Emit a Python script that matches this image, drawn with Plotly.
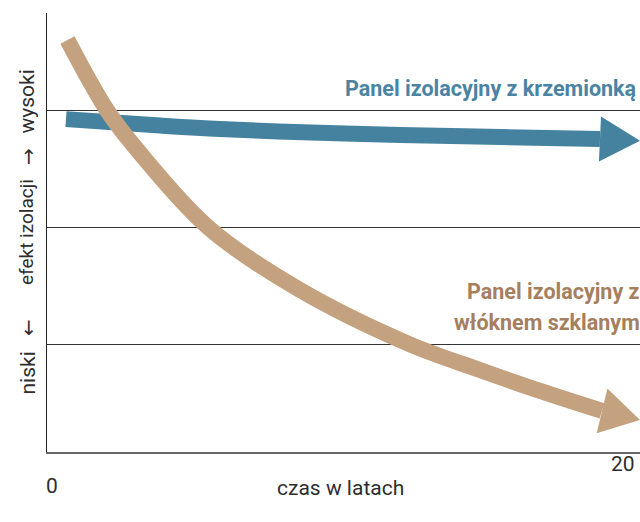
import math
import plotly.graph_objects as go

# ---- data ----
years_silica = [0.64, 3.81, 5.83, 8.9, 11.91, 15.3, 18.65, 20.0]
effect_silica = [2.93, 2.875, 2.845, 2.815, 2.794, 2.776, 2.760, 2.744]

years_glass = [0.69, 2.04, 3.05, 5.46, 8.53, 12.21, 14.60, 16.63, 18.72, 20.0]
effect_glass = [3.609, 3.0, 2.665, 1.996, 1.464, 1.0, 0.777, 0.597, 0.425, 0.347]

grid_levels = [1, 2, 3]
x_tick_labels = ["0", "20"]

label_silica = "Panel izolacyjny z krzemionką"
label_glass = ["Panel izolacyjny z", "włóknem szklanym"]
x_title = "czas w latach"
y_title_parts = ["wysoki", "→", "efekt izolacji", "←", "niski"]

# ---- layout constants ----
W, H = 640, 522
ML, MR, MT, MB = 47, 0, 13, 70
XR = [0, 20]
YR = [0.073, 3.841]
PW, PH = W - ML - MR, H - MT - MB
SX = PW / (XR[1] - XR[0])
SY = PH / (YR[1] - YR[0])

BLUE = "#44829f"
BROWN = "#c4a27f"
BLUE_TXT = "#4a84a2"
BROWN_TXT = "#a67f5e"
DARK = "#2e2e2e"
FONT = "Roboto"


def paper(xp, yp):
    # window pixel -> paper coords
    return (xp - ML) / PW, (H - MB - yp) / PH


def head(xs, ys, width):
    bx, by = xs[-2], ys[-2]
    tx, ty = xs[-1], ys[-1]
    dx, dy = (tx - bx) * SX, (ty - by) * SY
    L = math.hypot(dx, dy)
    nx, ny = -dy / L, dx / L
    h = width / 2
    c1 = (bx + nx * h / SX, by + ny * h / SY)
    c2 = (bx - nx * h / SX, by - ny * h / SY)
    return [c1[0], tx, c2[0], c1[0]], [c1[1], ty, c2[1], c1[1]]


fig = go.Figure()

# blue shaft + head
fig.add_trace(go.Scatter(x=years_silica[:-1], y=effect_silica[:-1], mode="lines",
                         line=dict(color=BLUE, width=16, shape="spline", smoothing=1),
                         hoverinfo="skip", showlegend=False))
hx, hy = head(years_silica, effect_silica, 45)
fig.add_trace(go.Scatter(x=hx, y=hy, mode="lines", fill="toself", fillcolor=BLUE,
                         line=dict(width=0, color=BLUE), hoverinfo="skip", showlegend=False))

# brown shaft + head
fig.add_trace(go.Scatter(x=years_glass[:-1], y=effect_glass[:-1], mode="lines",
                         line=dict(color=BROWN, width=16, shape="spline", smoothing=1),
                         hoverinfo="skip", showlegend=False))
hx, hy = head(years_glass, effect_glass, 46)
fig.add_trace(go.Scatter(x=hx, y=hy, mode="lines", fill="toself", fillcolor=BROWN,
                         line=dict(width=0, color=BROWN), hoverinfo="skip", showlegend=False))

ann = []


def add_text(text, xp, yp, size=21, color=DARK, bold=False, xanchor="center", angle=0,
             family=FONT):
    px_, py_ = paper(xp, yp)
    ann.append(dict(text=f"<b>{text}</b>" if bold else text, x=px_, y=py_,
                    xref="paper", yref="paper", showarrow=False,
                    xanchor=xanchor, yanchor="middle", textangle=angle,
                    font=dict(family=family, size=size, color=color)))


add_text(label_silica, 638, 88, size=21.5, color=BLUE_TXT, bold=True, xanchor="right")
add_text(label_glass[0], 642, 292, size=21.5, color=BROWN_TXT, bold=True, xanchor="right")
add_text(label_glass[1], 642, 322, size=21.5, color=BROWN_TXT, bold=True, xanchor="right")

add_text(x_tick_labels[0], 51.5, 486)
add_text(x_tick_labels[1], 637, 464, xanchor="right")
add_text(x_title, 340, 488)

y_pos = [101.5, 157, 232, 328, 373.5]
for t, yp in zip(y_title_parts, y_pos):
    if t in ("→", "←"):
        add_text(t, 28, yp, size=20, angle=-90, family="DejaVu Sans")
    elif t == "efekt izolacji":
        add_text(t, 27, yp, size=19, angle=-90)
    else:
        add_text(t, 27, yp, angle=-90)

fig.update_layout(
    width=W, height=H,
    margin=dict(l=ML, r=MR, t=MT, b=MB),
    paper_bgcolor="white", plot_bgcolor="white",
    annotations=ann,
    hovermode=False,
    xaxis=dict(range=XR, showgrid=False, zeroline=False, showticklabels=False,
               ticks="", showline=True, linecolor="#666", linewidth=2, fixedrange=True),
    yaxis=dict(range=YR, tickvals=grid_levels, showgrid=True, gridcolor="#333",
               gridwidth=1, zeroline=False, showticklabels=False, ticks="",
               showline=True, linecolor="#222", linewidth=1, fixedrange=True),
)

fig.write_html(
    "out.html",
    config={"displayModeBar": False, "staticPlot": True},
    post_script="document.body.style.margin='0';document.body.style.overflow='hidden';",
)
